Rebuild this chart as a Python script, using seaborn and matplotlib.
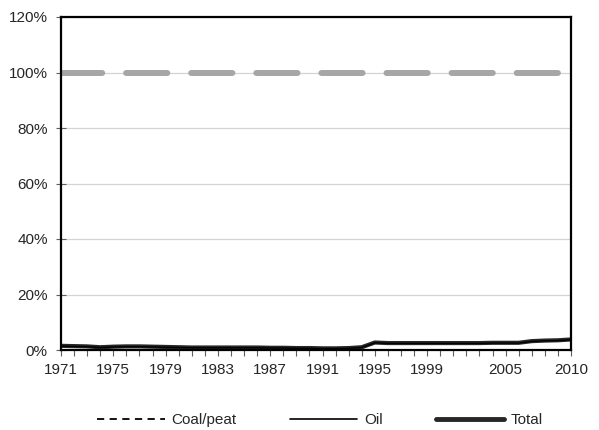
import matplotlib
matplotlib.use("Agg")
import matplotlib.pyplot as plt
import seaborn as sns
import pandas as pd
from matplotlib.lines import Line2D

years = list(range(1971, 2011))
coal = [100.0] * len(years)
oil = [1.4, 1.3, 1.2, 0.9, 1.1, 1.2, 1.2, 1.1, 1.0, 0.9, 0.8, 0.8, 0.8, 0.8, 0.8, 0.8, 0.7, 0.7, 0.6, 0.6,
       0.5, 0.5, 0.6, 0.9, 2.6, 2.4, 2.4, 2.4, 2.4, 2.4, 2.4, 2.4, 2.4, 2.5, 2.5, 2.5, 3.1, 3.3, 3.4, 3.7]
total = [1.5, 1.4, 1.3, 1.0, 1.2, 1.3, 1.3, 1.2, 1.1, 1.0, 0.9, 0.9, 0.9, 0.9, 0.9, 0.9, 0.8, 0.8, 0.7, 0.7,
         0.6, 0.6, 0.7, 1.0, 2.7, 2.5, 2.5, 2.5, 2.5, 2.5, 2.5, 2.5, 2.5, 2.6, 2.6, 2.6, 3.2, 3.4, 3.5, 3.8]
xlabels = [1971, 1975, 1979, 1983, 1987, 1991, 1995, 1999, 2005, 2010]
ylabels = ["0%", "20%", "40%", "60%", "80%", "100%", "120%"]

df = pd.DataFrame({"year": years, "coal": coal, "oil": oil, "total": total})

sns.set_style("white")
plt.rcParams['font.family'] = ['Liberation Sans', 'DejaVu Sans']
fig = plt.figure(figsize=(5.99, 4.30), dpi=100)
ax = fig.add_axes([61/599, 80/430, 510/599, 333/430])

ax.set_yticks([0, 20, 40, 60, 80, 100, 120])
ax.grid(axis="y", color="#d4d4d4", linewidth=0.9)
ax.set_axisbelow(True)

sns.lineplot(data=df, x="year", y="coal", ax=ax, color="#a6a6a6", linewidth=4.3,
             dashes=False, linestyle=(0, (6.9, 4.0)))
for l in ax.get_lines():
    l.set_dash_capstyle("round")
sns.lineplot(data=df, x="year", y="total", ax=ax, color="#262626", linewidth=3)
sns.lineplot(data=df, x="year", y="oil", ax=ax, color="black", linewidth=1)

ax.set_xlim(1971, 2010)
ax.set_ylim(0, 120)
ax.set_xticks(xlabels)
ax.set_xticklabels([str(x) for x in xlabels], fontsize=11)
ax.set_xticks(years, minor=True)
ax.set_yticklabels(ylabels, fontsize=11)
ax.set_xlabel("")
ax.set_ylabel("")
ax.tick_params(axis="x", which="both", direction="out", length=4, width=0.8, color="#606060", bottom=True, pad=5)
ax.tick_params(axis="y", which="major", direction="inout", length=7, width=0.8, color="#606060", left=True, pad=6)
for s in ["top", "right", "bottom", "left"]:
    ax.spines[s].set_color("black")
    ax.spines[s].set_linewidth(1.6)

handles = [Line2D([], [], color="black", linewidth=1.3, linestyle=(0, (4, 3))),
           Line2D([], [], color="black", linewidth=1.2),
           Line2D([], [], color="#262626", linewidth=3.5, solid_capstyle="round")]
fig.legend(handles, ["Coal/peat", "Oil", "Total"], loc="center", bbox_to_anchor=(320/599, 1 - 420/430),
           ncol=3, frameon=False, fontsize=11, handlelength=4.4, columnspacing=3.5, handletextpad=0.45)

fig.savefig("out.png", dpi=100)
